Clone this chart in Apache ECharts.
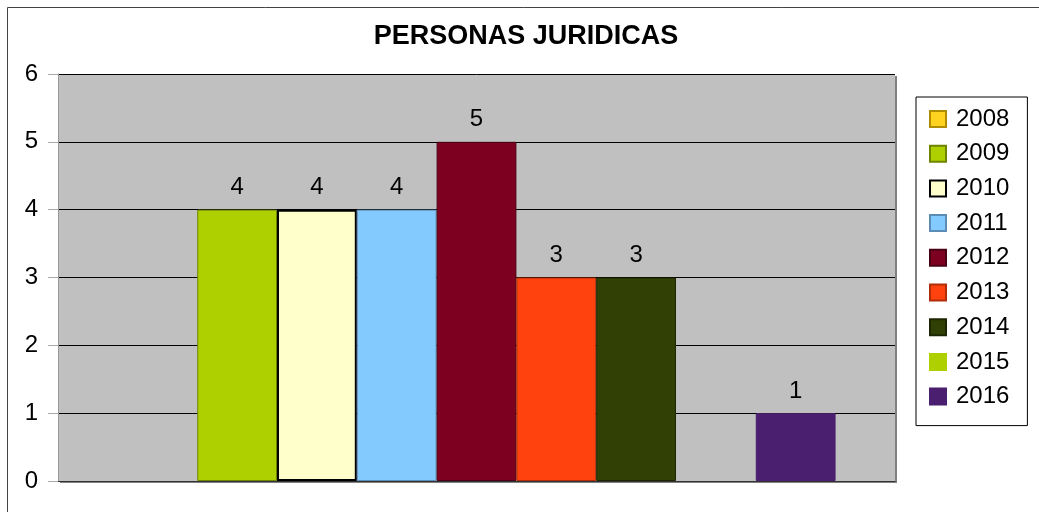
<!DOCTYPE html>
<html>
<head>
<meta charset="utf-8">
<script src="https://cdn.jsdelivr.net/npm/echarts@6/dist/echarts.min.js"></script>
<style>
	html, body { margin: 0; padding: 0; background: #fff; }
	#chart { width: 1039px; height: 512px; }
</style>
</head>
<body>
<div id="chart"></div>
<script>
// datos del gráfico
const categories = ['PERSONAS JURIDICAS'];
const years = ['2008', '2009', '2010', '2011', '2012', '2013', '2014', '2015', '2016'];
const values = [0, 4, 4, 4, 5, 3, 3, 0, 1];
const yTicks = [0, 1, 2, 3, 4, 5, 6];

const colors = ['#ffd320', '#aecf00', '#ffffcc', '#83caff', '#7e0021', '#ff420e', '#314004', '#aecf00', '#4b1f6f'];
const borders = ['#b08c00', '#6f8500', '#000000', '#5a8cb5', '#4a0014', '#b02c08', '#1d2602', '#aecf00', '#4b1f6f'];

const font = '"Liberation Sans", Arial, sans-serif';

const myChart = echarts.init(document.getElementById('chart'));

const series = years.map((y, i) => ({
	name: y,
	type: 'bar',
	// las barras en cero no se dibujan
	data: [{
		value: values[i],
		itemStyle: values[i] === 0 ? { borderWidth: 0, opacity: 0 } : {}
	}],
	barGap: '0%',
	barCategoryGap: '14.2%',
	itemStyle: {
		color: colors[i],
		borderColor: borders[i],
		borderWidth: y === '2010' ? 2 : 1
	},
	label: {
		show: true,
		position: 'top',
		distance: 10,
		color: '#000',
		fontFamily: font,
		fontSize: 24,
		formatter: p => (p.value === 0 ? '' : String(p.value))
	}
}));

const option = {
	animation: false,
	backgroundColor: '#fff',
	title: {
		text: 'PERSONAS JURIDICAS',
		left: 521,
		top: 18,
		textAlign: 'center',
		textStyle: { fontFamily: font, fontSize: 27, fontWeight: 'bold', color: '#000' }
	},
	graphic: [{
		type: 'rect',
		shape: { x: 7.5, y: 7.5, width: 1100, height: 600 },
		style: { fill: 'none', stroke: '#444', lineWidth: 1 },
		silent: true
	}],
	legend: {
		orient: 'vertical',
		left: 916,
		top: 97,
		height: 420,
		backgroundColor: '#fff',
		borderColor: '#000',
		borderWidth: 1,
		padding: [10, 18, 17, 13],
		itemWidth: 16,
		itemHeight: 16,
		itemGap: 10.7,
		icon: 'rect',
		textStyle: { fontFamily: font, fontSize: 24, color: '#000', padding: [0, 0, 0, 5] },
		data: years
	},
	grid: {
		left: 58,
		right: 144,
		top: 74,
		bottom: 31,
		show: true,
		backgroundColor: '#c0c0c0',
		borderWidth: 0,
		shadowColor: '#808080',
		shadowOffsetX: 2,
		shadowOffsetY: 2,
		shadowBlur: 0
	},
	xAxis: {
		type: 'category',
		data: categories,
		axisLabel: { show: false },
		axisTick: { show: false },
		axisLine: { show: true, lineStyle: { color: '#333', width: 1 } }
	},
	yAxis: {
		type: 'value',
		min: yTicks[0],
		max: yTicks[yTicks.length - 1],
		interval: 1,
		axisLine: { show: true, lineStyle: { color: '#999', width: 1 } },
		axisTick: { show: true, length: 10, lineStyle: { color: '#aaa' } },
		axisLabel: { color: '#000', fontFamily: font, fontSize: 24, margin: 20 },
		splitLine: { show: true, lineStyle: { color: '#000', width: 1 } }
	},
	series: series
};

myChart.setOption(option);

window.addEventListener('resize', () => {
	myChart.resize();
});
</script>
</body>
</html>
